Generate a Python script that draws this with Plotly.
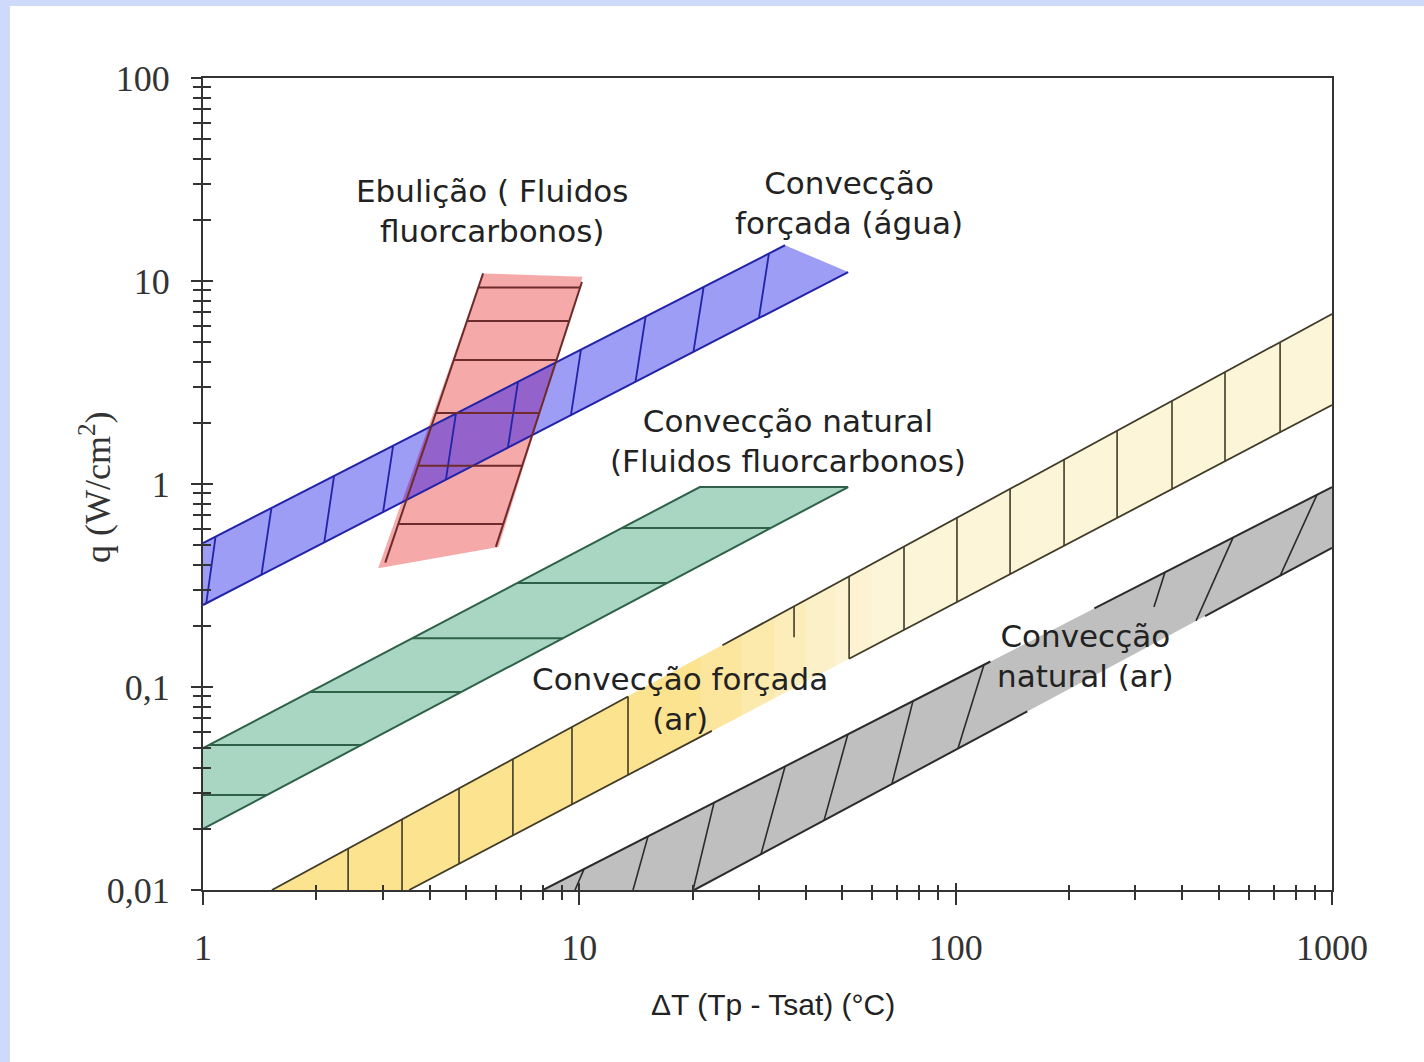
import numpy as np
import plotly.graph_objects as go

# ---------------- axis ticks ----------------
x_tickvals = [1, 10, 100, 1000]
x_ticktext = ["1", "10", "100", "1000"]
x_minor = [2, 3, 4, 5, 6, 7, 8, 9, 20, 30, 40, 50, 60, 70, 80, 90,
           200, 300, 400, 500, 600, 700, 800, 900]
y_tickvals = [0.01, 0.1, 1, 10, 100]
y_ticktext = ["0,01", "0,1", "1", "10", "100"]
y_minor = [0.02, 0.03, 0.04, 0.05, 0.06, 0.07, 0.08, 0.09,
           0.2, 0.3, 0.4, 0.5, 0.6, 0.7, 0.8, 0.9,
           2, 3, 4, 5, 6, 7, 8, 9, 20, 30, 40, 50, 60, 70, 80, 90]

# ---------------- bands (ΔT, q) ----------------
# Convecção forçada (água)
agua_upper_dt = [1.0, 35.2]
agua_upper_q = [0.512, 15.0]
agua_lower_dt = [1.0, 51.8]
agua_lower_q = [0.2535, 11.07]
agua_hatch_low_dt = [1.02, 1.43, 2.10, 3.01, 4.42, 6.46, 9.5, 14.1, 20.1, 30.0]
agua_hatch_up_dt = [1.08, 1.52, 2.23, 3.20, 4.70, 6.87, 10.1, 15.0, 21.4, 31.9]

# Ebulição (fluidos fluorcarbonos)
ebul_fill_dt = [5.55, 10.2, 6.1, 2.92]
ebul_fill_q = [10.9, 10.5, 0.49, 0.385]
ebul_left_dt = [5.55, 3.05]
ebul_left_q = [10.9, 0.41]
ebul_right_dt = [10.16, 6.0]
ebul_right_q = [9.9, 0.49]
ebul_hatch_q = [9.3, 6.36, 4.08, 2.24, 1.23, 0.635]

# Convecção natural (fluidos fluorcarbonos)
natfc_upper_dt = [1.0, 20.9]
natfc_upper_q = [0.05, 0.966]
natfc_lower_dt = [1.0, 51.8]
natfc_lower_q = [0.02, 0.966]
natfc_hatch_q = [0.0294, 0.0518, 0.0944, 0.174, 0.325, 0.607]

# Convecção forçada (ar)
arf_upper_dt = [1.525, 1000]
arf_upper_q = [0.01, 6.88]
arf_lower_dt = [3.53, 1000]
arf_lower_q = [0.01, 2.45]
arf_hatch_dt = [2.43, 3.38, 4.79, 6.66, 9.56, 13.47, 52.1, 72.9, 100.8,
                139.5, 194.1, 268.5, 375.7, 519.6, 727.9]
arf_short_hatch_dt = 37.2
arf_short_hatch_q = 0.176
arf_upper_gap = [13.47, 24.0]
arf_lower_gap = [22.5, 52.1]
# colour steps of the yellow band (ΔT where each shade ends, from right to left)
arf_shade_dt = [60.0, 48.0, 40.0, 33.0, 27.0, 21.0]
arf_shade_col = ["#fdf3d2", "#fcf0c8", "#fcedbb", "#fce9ac", "#fce69e", "#fce38f"]

# Convecção natural (ar)
arn_upper_dt = [8.01, 1000]
arn_upper_q = [0.01, 0.966]
arn_lower_dt = [20.2, 1000]
arn_lower_q = [0.01, 0.484]
arn_hatch_low_dt = [9.74, 13.89, 20.05, 30.39, 44.7, 67.7, 101.4, 435.2, 727.9]
arn_hatch_up_dt = [10.29, 15.22, 22.8, 35.2, 51.7, 77.0, 118.9, 545.8, 912.6]
arn_short_low_dt = 336.5
arn_short_low_q = 0.248
arn_short_up_dt = 359.9
arn_upper_gap = [123.7, 233.6]
arn_lower_gap = [155.0, 460.0]

QMIN = 0.01

# ---------------- helpers (log-log straight lines) ----------------
L = np.log10


def q_at(dts, qs, x):
    t = (L(x) - L(dts[0])) / (L(dts[1]) - L(dts[0]))
    return 10 ** (L(qs[0]) + t * (L(qs[1]) - L(qs[0])))


def dt_at(dts, qs, q):
    t = (L(q) - L(qs[0])) / (L(qs[1]) - L(qs[0]))
    return 10 ** (L(dts[0]) + t * (L(dts[1]) - L(dts[0])))


def seg_trace(xs, ys, color, width):
    return go.Scatter(x=xs, y=ys, mode="lines", line=dict(color=color, width=width),
                      hoverinfo="skip", showlegend=False)


def fill_trace(xs, ys, color):
    return go.Scatter(x=list(xs) + [xs[0]], y=list(ys) + [ys[0]], mode="lines",
                      fill="toself", fillcolor=color, line=dict(width=0),
                      hoverinfo="skip", showlegend=False)


def clip_polygon(subject, clipper):
    def area(p):
        return sum(p[i][0] * p[(i + 1) % len(p)][1] - p[(i + 1) % len(p)][0] * p[i][1]
                   for i in range(len(p)))
    s = 1 if area(clipper) > 0 else -1

    def inside(p, a, b):
        return s * ((b[0] - a[0]) * (p[1] - a[1]) - (b[1] - a[1]) * (p[0] - a[0])) >= 0

    def inter(p1, p2, a, b):
        x1, y1 = p1; x2, y2 = p2; x3, y3 = a; x4, y4 = b
        den = (x1 - x2) * (y3 - y4) - (y1 - y2) * (x3 - x4)
        t = ((x1 - x3) * (y3 - y4) - (y1 - y3) * (x3 - x4)) / den
        return (x1 + t * (x2 - x1), y1 + t * (y2 - y1))

    out = subject
    for i in range(len(clipper)):
        a, b = clipper[i], clipper[(i + 1) % len(clipper)]
        inp, out = out, []
        for j in range(len(inp)):
            cur, prev = inp[j], inp[j - 1]
            if inside(cur, a, b):
                if not inside(prev, a, b):
                    out.append(inter(prev, cur, a, b))
                out.append(cur)
            elif inside(prev, a, b):
                out.append(inter(prev, cur, a, b))
        if not out:
            break
    return out


traces = []

# colours
c_blue, c_blue_l = "#9d9df6", "#2323a8"
c_red, c_red_l = "#f6a9a9", "#6e2b2b"
c_over = "#9363cb"
c_green, c_green_l = "#a9d6c2", "#2e6148"
c_yel_base, c_yel_l = "#fdf5d8", "#403b28"
c_gray, c_gray_l = "#bfbfbf", "#2b2b2b"

# ---- yellow: Convecção forçada (ar) ----
traces.append(fill_trace([arf_upper_dt[0], arf_upper_dt[1], arf_lower_dt[1], arf_lower_dt[0]],
                         [arf_upper_q[0], arf_upper_q[1], arf_lower_q[1], arf_lower_q[0]],
                         c_yel_base))
for s, col in zip(arf_shade_dt, arf_shade_col):
    traces.append(fill_trace([arf_upper_dt[0], s, s, arf_lower_dt[0]],
                             [arf_upper_q[0], q_at(arf_upper_dt, arf_upper_q, s),
                              q_at(arf_lower_dt, arf_lower_q, s), arf_lower_q[0]], col))

# ---- gray: Convecção natural (ar) ----
traces.append(fill_trace([arn_upper_dt[0], arn_upper_dt[1], arn_lower_dt[1], arn_lower_dt[0]],
                         [arn_upper_q[0], arn_upper_q[1], arn_lower_q[1], arn_lower_q[0]],
                         c_gray))

# ---- green: Convecção natural (fluorcarbonos) ----
traces.append(fill_trace([natfc_upper_dt[0], natfc_upper_dt[1], natfc_lower_dt[1], natfc_lower_dt[0]],
                         [natfc_upper_q[0], natfc_upper_q[1], natfc_lower_q[1], natfc_lower_q[0]],
                         c_green))

# ---- blue + red fills and their overlap ----
blue_poly = [(agua_upper_dt[0], agua_upper_q[0]), (agua_upper_dt[1], agua_upper_q[1]),
             (agua_lower_dt[1], agua_lower_q[1]), (agua_lower_dt[0], agua_lower_q[0])]
red_poly = list(zip(ebul_fill_dt, ebul_fill_q))
traces.append(fill_trace([p[0] for p in blue_poly], [p[1] for p in blue_poly], c_blue))
traces.append(fill_trace(ebul_fill_dt, ebul_fill_q, c_red))
ov = clip_polygon([(L(a), L(b)) for a, b in blue_poly], [(L(a), L(b)) for a, b in red_poly])
if ov:
    traces.append(fill_trace([10 ** p[0] for p in ov], [10 ** p[1] for p in ov], c_over))

# ---------------- lines ----------------
# yellow edges (with gaps under the label) and hatches
xs, ys = [], []
for a, b in [(arf_upper_dt[0], arf_upper_gap[0]), (arf_upper_gap[1], arf_upper_dt[1])]:
    xs += [a, b, None]; ys += [q_at(arf_upper_dt, arf_upper_q, a), q_at(arf_upper_dt, arf_upper_q, b), None]
for a, b in [(arf_lower_dt[0], arf_lower_gap[0]), (arf_lower_gap[1], arf_lower_dt[1])]:
    xs += [a, b, None]; ys += [q_at(arf_lower_dt, arf_lower_q, a), q_at(arf_lower_dt, arf_lower_q, b), None]
traces.append(seg_trace(xs, ys, c_yel_l, 1.8))
xs, ys = [], []
for d in arf_hatch_dt:
    xs += [d, d, None]
    ys += [max(q_at(arf_lower_dt, arf_lower_q, d), QMIN), q_at(arf_upper_dt, arf_upper_q, d), None]
xs += [arf_short_hatch_dt, arf_short_hatch_dt, None]
ys += [arf_short_hatch_q, q_at(arf_upper_dt, arf_upper_q, arf_short_hatch_dt), None]
traces.append(seg_trace(xs, ys, c_yel_l, 1.6))

# gray edges and hatches
xs, ys = [], []
for a, b in [(arn_upper_dt[0], arn_upper_gap[0]), (arn_upper_gap[1], arn_upper_dt[1])]:
    xs += [a, b, None]; ys += [q_at(arn_upper_dt, arn_upper_q, a), q_at(arn_upper_dt, arn_upper_q, b), None]
for a, b in [(arn_lower_dt[0], arn_lower_gap[0]), (arn_lower_gap[1], arn_lower_dt[1])]:
    xs += [a, b, None]; ys += [q_at(arn_lower_dt, arn_lower_q, a), q_at(arn_lower_dt, arn_lower_q, b), None]
traces.append(seg_trace(xs, ys, c_gray_l, 2))
xs, ys = [], []
for dl, du in zip(arn_hatch_low_dt, arn_hatch_up_dt):
    xs += [dl, du, None]
    ys += [max(q_at(arn_lower_dt, arn_lower_q, dl), QMIN), q_at(arn_upper_dt, arn_upper_q, du), None]
xs += [arn_short_low_dt, arn_short_up_dt, None]
ys += [arn_short_low_q, q_at(arn_upper_dt, arn_upper_q, arn_short_up_dt), None]
traces.append(seg_trace(xs, ys, c_gray_l, 1.6))

# green edges and hatches
top_q = natfc_upper_q[1]
xs = [natfc_upper_dt[0], natfc_upper_dt[1], natfc_lower_dt[1], None, natfc_lower_dt[0], natfc_lower_dt[1], None]
ys = [natfc_upper_q[0], natfc_upper_q[1], top_q, None, natfc_lower_q[0], natfc_lower_q[1], None]
traces.append(seg_trace(xs, ys, c_green_l, 2))
xs, ys = [], []
for q in natfc_hatch_q:
    xs += [max(dt_at(natfc_upper_dt, natfc_upper_q, q), 1.0), dt_at(natfc_lower_dt, natfc_lower_q, q), None]
    ys += [q, q, None]
traces.append(seg_trace(xs, ys, c_green_l, 2))

# blue edges and hatches
xs = [agua_upper_dt[0], agua_upper_dt[1], None, agua_lower_dt[0], agua_lower_dt[1], None]
ys = [agua_upper_q[0], agua_upper_q[1], None, agua_lower_q[0], agua_lower_q[1], None]
traces.append(seg_trace(xs, ys, c_blue_l, 2))
xs, ys = [], []
for dl, du in zip(agua_hatch_low_dt, agua_hatch_up_dt):
    xs += [dl, du, None]
    ys += [q_at(agua_lower_dt, agua_lower_q, dl), q_at(agua_upper_dt, agua_upper_q, du), None]
traces.append(seg_trace(xs, ys, c_blue_l, 1.8))

# red edges and hatches
xs = [ebul_left_dt[0], ebul_left_dt[1], None, ebul_right_dt[0], ebul_right_dt[1], None]
ys = [ebul_left_q[0], ebul_left_q[1], None, ebul_right_q[0], ebul_right_q[1], None]
traces.append(seg_trace(xs, ys, c_red_l, 2))
xs, ys = [], []
for q in ebul_hatch_q:
    xs += [dt_at(ebul_left_dt, ebul_left_q, q), dt_at(ebul_right_dt, ebul_right_q, q), None]
    ys += [q, q, None]
traces.append(seg_trace(xs, ys, c_red_l, 2))

# dummy traces so the overlay tick axes render
traces.append(go.Scatter(x=[10], y=[1], xaxis="x2", yaxis="y", mode="markers",
                         marker=dict(opacity=0), hoverinfo="skip", showlegend=False))
traces.append(go.Scatter(x=[10], y=[1], xaxis="x", yaxis="y2", mode="markers",
                         marker=dict(opacity=0), hoverinfo="skip", showlegend=False))

fig = go.Figure(traces)

axc = "#333333"
tickfont = dict(family="Liberation Serif, Times New Roman, serif", size=36, color="#333333")
fig.update_layout(
    width=1424, height=1062, autosize=False,
    margin=dict(l=203, r=92, t=78, b=172),
    paper_bgcolor="white", plot_bgcolor="white",
    xaxis=dict(type="log", range=[0, 3], tickmode="array", tickvals=x_tickvals, ticktext=x_ticktext,
               ticks="outside", ticklen=13, tickwidth=2, tickcolor=axc,
               minor=dict(tickmode="array", tickvals=x_minor, ticks="outside", ticklen=8,
                          tickwidth=1.5, tickcolor=axc, showgrid=False),
               showline=True, linecolor=axc, linewidth=2, mirror=True,
               showgrid=False, zeroline=False, tickfont=tickfont, ticklabelstandoff=12),
    xaxis2=dict(type="log", range=[0, 3], overlaying="x", anchor="y", side="bottom",
                tickmode="array", tickvals=x_tickvals, showticklabels=False,
                ticks="inside", ticklen=7, tickwidth=2, tickcolor=axc,
                minor=dict(tickmode="array", tickvals=x_minor, ticks="inside", ticklen=5,
                           tickwidth=1.5, tickcolor=axc, showgrid=False),
                showline=False, showgrid=False, zeroline=False),
    yaxis=dict(type="log", range=[-2, 2], tickmode="array", tickvals=y_tickvals, ticktext=y_ticktext,
               ticks="outside", ticklen=10, tickwidth=2, tickcolor=axc,
               minor=dict(tickmode="array", tickvals=y_minor, ticks="outside", ticklen=8,
                          tickwidth=1.5, tickcolor=axc, showgrid=False),
               showline=True, linecolor=axc, linewidth=2, mirror=True,
               showgrid=False, zeroline=False, tickfont=tickfont, ticklabelstandoff=14),
    yaxis2=dict(type="log", range=[-2, 2], overlaying="y", anchor="x", side="left",
                tickmode="array", tickvals=y_tickvals, showticklabels=False,
                ticks="inside", ticklen=10, tickwidth=2, tickcolor=axc,
                minor=dict(tickmode="array", tickvals=y_minor, ticks="inside", ticklen=8,
                           tickwidth=1.5, tickcolor=axc, showgrid=False),
                showline=False, showgrid=False, zeroline=False),
)


def px2paper(px, py):
    return (px - 203) / 1129.0, (890 - py) / 812.0


lab_font = dict(family="DejaVu Sans, Lato, sans-serif", size=31, color="#222222")
labels = [
    ("Ebulição ( Fluidos<br>fluorcarbonos)", 492, 211),
    ("Convecção<br>forçada (água)", 849, 203),
    ("Convecção natural<br>(Fluidos fluorcarbonos)", 788, 441),
    ("Convecção forçada<br>(ar)", 680, 699),
    ("Convecção<br>natural (ar)", 1085, 656),
]
ann = []
for txt, px, py in labels:
    xp, yp = px2paper(px, py)
    ann.append(dict(text=txt, x=xp, y=yp, xref="paper", yref="paper", showarrow=False,
                    xanchor="center", yanchor="middle", align="center", font=lab_font))
xp, yp = px2paper(773, 1005)
ann.append(dict(text="ΔT (Tp - Tsat) (°C)", x=xp, y=yp, xref="paper", yref="paper", showarrow=False,
                xanchor="center", yanchor="middle",
                font=dict(family="Liberation Sans, Arial, sans-serif", size=30, color="#222222")))
xp, yp = px2paper(95, 487)
ann.append(dict(text="q (W/cm<sup>2</sup>)", x=xp, y=yp, xref="paper", yref="paper", showarrow=False,
                xanchor="center", yanchor="middle", textangle=-90,
                font=dict(family="Liberation Serif, Times New Roman, serif", size=36, color="#333333")))
fig.update_layout(annotations=ann)

# light-blue frame strips (top and left) as in the reference
x_left = -203 / 1129.0
fig.add_shape(type="rect", xref="paper", yref="paper", x0=x_left, x1=(10 - 203) / 1129.0,
              y0=(890 - 1062) / 812.0, y1=890 / 812.0, fillcolor="#cddafa", line=dict(width=0))
fig.add_shape(type="rect", xref="paper", yref="paper", x0=x_left, x1=(1424 - 203) / 1129.0,
              y0=(890 - 6) / 812.0, y1=890 / 812.0, fillcolor="#cddafa", line=dict(width=0))

fig.write_html("out.html", config={"displayModeBar": False},
               post_script="document.body.style.margin='0';")
